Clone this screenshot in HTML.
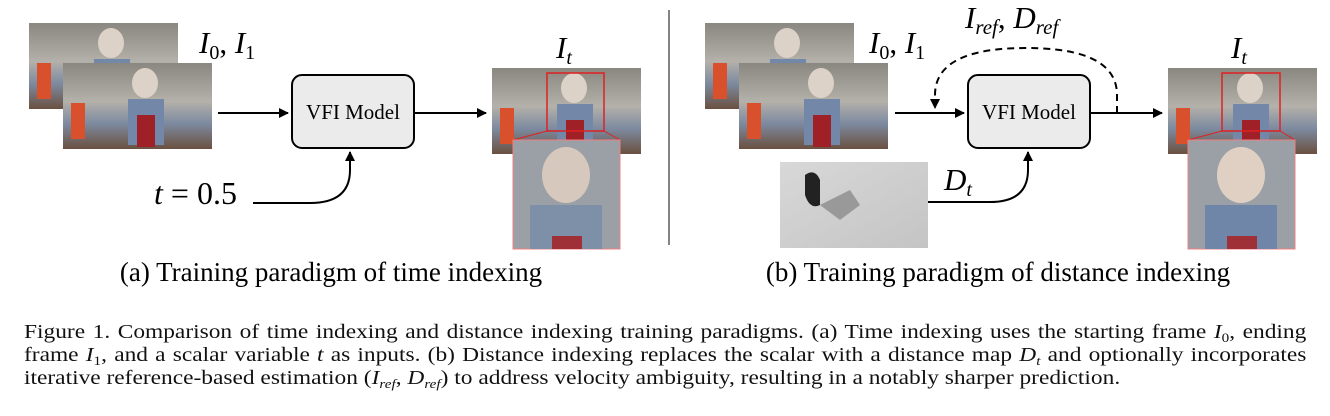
<!DOCTYPE html>
<html><head><meta charset="utf-8"><style>
body{margin:0;background:#fff;width:1330px;height:416px;overflow:hidden;font-family:"Liberation Serif",serif}
svg{position:absolute;left:0;top:0}
.cap{position:absolute;left:24px;width:1096px;font-size:20px;color:#111;white-space:nowrap;line-height:23px;transform:scaleX(1.17);transform-origin:0 0}
.j{text-align:justify;text-align-last:justify}
i{font-style:italic}
sub{font-size:13px;vertical-align:-4px;line-height:0}
</style></head><body>
<svg width="1330" height="416">
<defs>
<linearGradient id="room" x1="0" y1="0" x2="0" y2="1"><stop offset="0" stop-color="#8a8680"/><stop offset="0.45" stop-color="#b4b0aa"/><stop offset="0.7" stop-color="#7d8ba0"/><stop offset="1" stop-color="#6a5040"/></linearGradient>
<linearGradient id="depth" x1="0" y1="0" x2="1" y2="1"><stop offset="0" stop-color="#d8d8d8"/><stop offset="1" stop-color="#c4c4c4"/></linearGradient>
<marker id="ah" markerWidth="10" markerHeight="10" refX="9" refY="5" orient="auto" markerUnits="userSpaceOnUse"><path d="M0,0 L10,5 L0,10 z" fill="#000"/></marker>
<g id="frame"><rect width="149" height="86" fill="url(#room)"/><rect x="8" y="40" width="14" height="36" fill="#d8502c"/><ellipse cx="82" cy="20" rx="13" ry="15" fill="#ddd2c8"/><rect x="65" y="36" width="36" height="46" fill="#7388a8"/><rect x="74" y="52" width="18" height="32" fill="#a02028"/></g>
</defs>
<g>
<use href="#frame" x="29" y="23"/>
<use href="#frame" x="63" y="63"/>
<text x="199" y="53" font-size="31" font-style="italic">I<tspan font-size="20" dy="6" font-style="normal">0</tspan><tspan dy="-6" font-style="normal">, </tspan>I<tspan font-size="20" dy="6" font-style="normal">1</tspan></text>
<line x1="218" y1="113" x2="288" y2="113" stroke="#000" stroke-width="2" marker-end="url(#ah)"/>
<rect x="292" y="75" width="122" height="73" rx="10" fill="#ebebeb" stroke="#000" stroke-width="2"/>
<text x="353" y="119" font-size="21" text-anchor="middle">VFI Model</text>
<line x1="414" y1="113" x2="486" y2="113" stroke="#000" stroke-width="2" marker-end="url(#ah)"/>
<text x="154" y="204" font-size="32"><tspan font-style="italic">t</tspan> = 0.5</text>
<path d="M253,203 L310,203 Q350,203 350,170 L350,152" fill="none" stroke="#000" stroke-width="2" marker-end="url(#ah)"/>
<text x="556" y="58" font-size="31" font-style="italic">I<tspan font-size="20" dy="6">t</tspan></text>
<use href="#frame" x="492" y="68"/>
<rect x="547" y="73" width="57" height="58" fill="none" stroke="#e02020" stroke-width="1.5"/>
<line x1="547" y1="131" x2="513" y2="140" stroke="#e02020"/><line x1="604" y1="131" x2="620" y2="140" stroke="#e02020"/>
<rect x="513" y="140" width="107" height="109" fill="#9aa0a6" stroke="#f08080"/>
<ellipse cx="566" cy="175" rx="24" ry="28" fill="#d6c8bc"/><rect x="530" y="205" width="72" height="44" fill="#7e90a8"/><rect x="552" y="236" width="30" height="13" fill="#a03038"/>
</g>
<line x1="669" y1="10" x2="669" y2="245" stroke="#333" stroke-width="1.2"/>
<g>
<use href="#frame" x="705" y="23"/>
<use href="#frame" x="739" y="63"/>
<text x="869" y="53" font-size="31" font-style="italic">I<tspan font-size="20" dy="6" font-style="normal">0</tspan><tspan dy="-6" font-style="normal">, </tspan>I<tspan font-size="20" dy="6" font-style="normal">1</tspan></text>
<text x="965" y="28" font-size="31" font-style="italic">I<tspan font-size="21" dy="6">ref</tspan><tspan dy="-6" font-style="normal">, </tspan>D<tspan font-size="21" dy="6">ref</tspan></text>
<line x1="895" y1="113" x2="964" y2="113" stroke="#000" stroke-width="2" marker-end="url(#ah)"/>
<rect x="968" y="75" width="122" height="73" rx="10" fill="#ebebeb" stroke="#000" stroke-width="2"/>
<text x="1029" y="119" font-size="21" text-anchor="middle">VFI Model</text>
<line x1="1090" y1="113" x2="1162" y2="113" stroke="#000" stroke-width="2" marker-end="url(#ah)"/>
<path d="M1117,113 L1117,95 Q1117,48 1026,48 Q935,48 935,95 L935,108" fill="none" stroke="#000" stroke-width="2" stroke-dasharray="7,5" marker-end="url(#ah)"/>
<rect x="780" y="162" width="148" height="86" fill="url(#depth)"/>
<path d="M805,175 Q815,168 820,180 L820,205 Q810,210 805,195 Z" fill="#222"/>
<path d="M820,205 L850,190 L860,205 L840,220 Z" fill="#999"/>
<text x="944" y="190" font-size="31" font-style="italic">D<tspan font-size="20" dy="6">t</tspan></text>
<path d="M928,202 L990,202 Q1028,202 1028,170 L1028,152" fill="none" stroke="#000" stroke-width="2" marker-end="url(#ah)"/>
<text x="1231" y="58" font-size="31" font-style="italic">I<tspan font-size="20" dy="6">t</tspan></text>
<use href="#frame" x="1168" y="68"/>
<rect x="1222" y="73" width="58" height="58" fill="none" stroke="#e02020" stroke-width="1.5"/>
<line x1="1222" y1="131" x2="1188" y2="140" stroke="#e02020"/><line x1="1280" y1="131" x2="1295" y2="140" stroke="#e02020"/>
<rect x="1188" y="140" width="107" height="109" fill="#9aa0a6" stroke="#f08080"/>
<ellipse cx="1241" cy="175" rx="24" ry="28" fill="#e0d0c4"/><rect x="1205" y="205" width="72" height="44" fill="#6f86a8"/><rect x="1227" y="236" width="30" height="13" fill="#a03038"/>
</g>
<text x="331" y="281" font-size="27" text-anchor="middle">(a) Training paradigm of time indexing</text>
<text x="998" y="281" font-size="27" text-anchor="middle">(b) Training paradigm of distance indexing</text>
</svg>
<div class="cap j" style="top:321px">Figure 1. Comparison of time indexing and distance indexing training paradigms. (a) Time indexing uses the starting frame <i>I</i><sub>0</sub>, ending</div>
<div class="cap j" style="top:344px">frame <i>I</i><sub>1</sub>, and a scalar variable <i>t</i> as inputs. (b) Distance indexing replaces the scalar with a distance map <i>D<sub>t</sub></i> and optionally incorporates</div>
<div class="cap" style="top:367px">iterative reference-based estimation (<i>I<sub>ref</sub></i>, <i>D<sub>ref</sub></i>) to address velocity ambiguity, resulting in a notably sharper prediction.</div>
</body></html>
